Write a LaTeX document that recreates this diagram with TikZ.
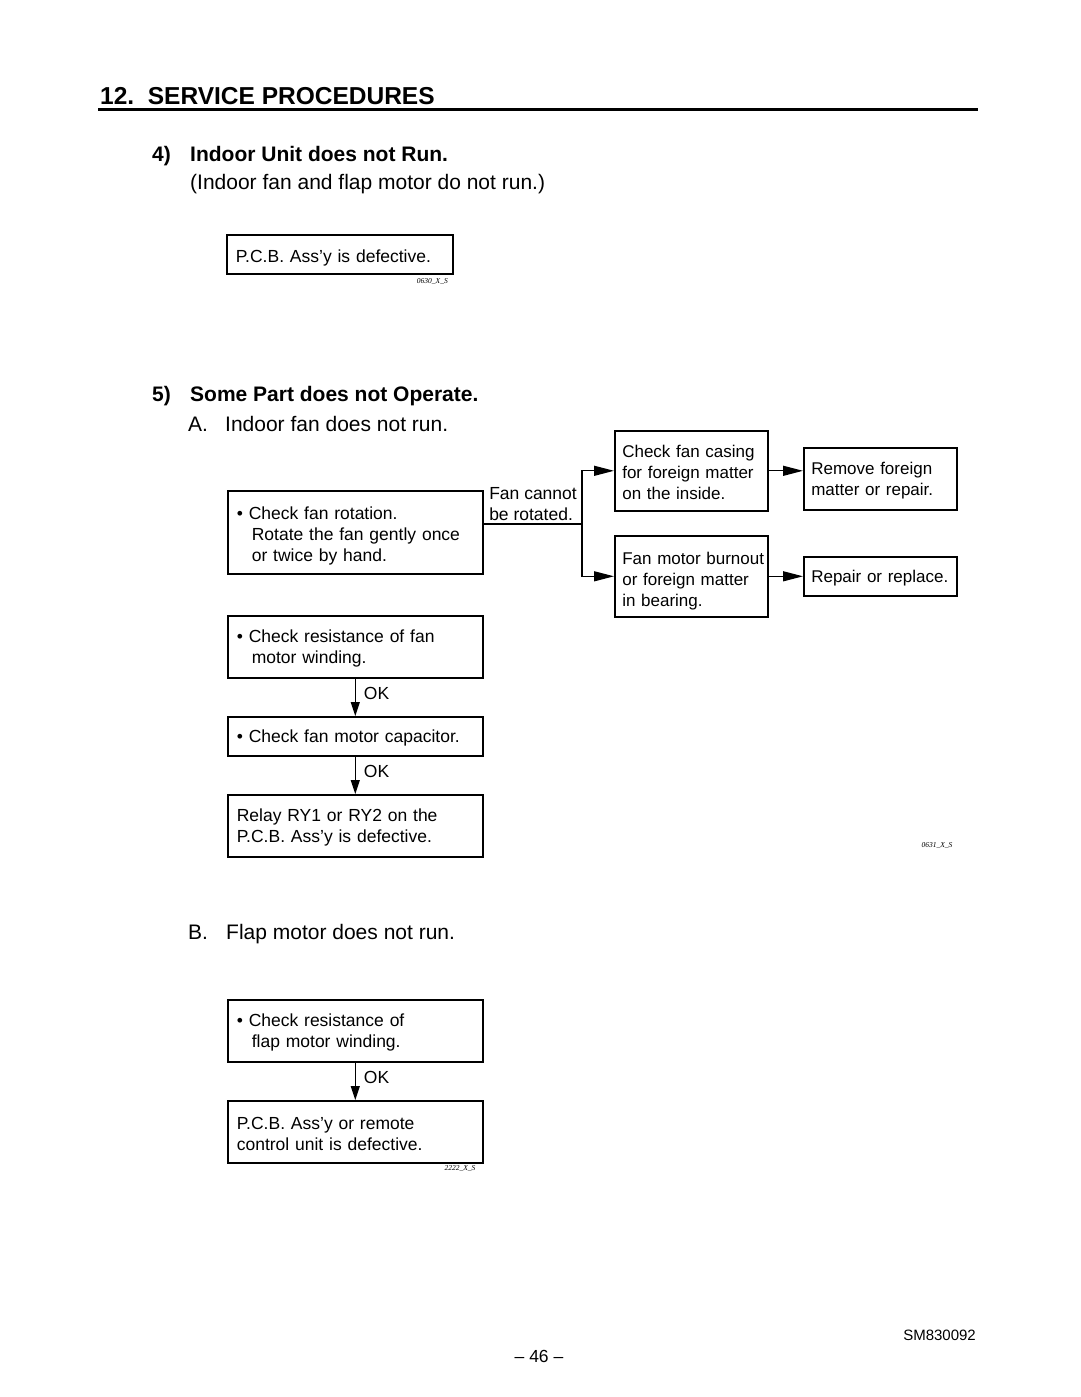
\documentclass[tikz,border=0pt]{standalone}
\usepackage{fontspec}
\setmainfont{Liberation Sans}
\newfontfamily\tagfont{Liberation Serif}
\usetikzlibrary{arrows.meta}
\newcommand{\bul}{\textbullet\ }
\newcommand{\ind}{\hspace*{15pt}}

\begin{document}
\begin{tikzpicture}[x=1pt, y=-1pt,
		blockW/.style   = {draw, rectangle,
			anchor         = north west,
			align          = left,
			inner xsep     = 9pt,
			inner ysep     = 0pt,
			text width     = 237pt,
			line width     = 1.6pt,
			execute at begin node = {\rule{0pt}{16pt}},
			font = \fontsize{17.5}{21}\selectfont},
		blockN/.style   = {blockW,
			inner xsep     = 7.5pt,
			text width     = 138pt,
			font = \fontsize{17}{21}\selectfont},
		blockP/.style   = {blockW,
			text width     = 208pt},
		low/.style      = {execute at begin node = {\rule{0pt}{21pt}}},
		head/.style     = {anchor = base west, inner sep = 0pt,
			font = \fontsize{21}{25}\selectfont},
		bold/.style     = {font = \bfseries\fontsize{21}{25}\selectfont},
		tag/.style      = {inner sep = 0pt, font = \tagfont\itshape\fontsize{7.5}{9}\selectfont},
		lbl/.style      = {anchor = south west, pos = 0, align = left,
			inner xsep = 5pt, inner ysep = 3pt,
			font = \fontsize{17.5}{21}\selectfont},
		ok/.style       = {right, pos = 0.4, inner xsep = 8pt,
			font = \fontsize{17.5}{21}\selectfont},
		conn/.style     = {line width = 1.3pt},
		arrH/.style     = {conn, -{Triangle[length=20pt, width=10pt]}},
		arrV/.style     = {conn, -{Triangle[length=14pt, width=9pt]}}]
	
	\useasboundingbox (0,0) rectangle (1080,1397);
	
	% headings
	\node[head, font = \bfseries\fontsize{24.5}{28}\selectfont] (title) at (100,104) {12.\ \ SERVICE PROCEDURES};
	\draw[line width = 3pt] (98,109) -- (978,109);
	
	\node[head, bold] (sec4) at (152,161) {\makebox[38pt][l]{4)}Indoor Unit does not Run.};
	\node[head] (sec4b) at (190,189) {(Indoor fan and flap motor do not run.)};
	
	\node[blockP, low, minimum height = 39pt] (pcb) at (226,234) {P.C.B. Ass'y is defective.};
	\node[tag, anchor = east] (tag1) at (448,281) {0630\_X\_S};
	
	\node[head, bold] (sec5) at (152,401) {\makebox[38pt][l]{5)}Some Part does not Operate.};
	\node[head] (subA) at (188,431) {\makebox[37pt][l]{A.}Indoor fan does not run.};
	
	% A. indoor fan
	\node[blockW, low, minimum height = 83pt] (rot) at (227,490)
	{\bul Check fan rotation.\\
		\ind Rotate the fan gently once\\
		\ind or twice by hand.};
	
	\node[blockN, minimum height = 80pt] (casing) at (614,430)
	{\mbox{Check fan casing}\\ \mbox{for foreign matter}\\ on the inside.};
	\node[blockN, minimum height = 62pt] (remove) at (803,447)
	{Remove foreign\\ matter or repair.};
	\node[blockN, low, minimum height = 81pt] (burnout) at (614,535)
	{\mbox{Fan motor burnout}\\ \mbox{or foreign matter}\\ in bearing.};
	\node[blockN, minimum height = 39pt] (repair) at (803,556)
	{\mbox{Repair or replace.}};
	
	\node[blockW, minimum height = 62pt] (wind) at (227,615)
	{\bul Check resistance of fan\\ \ind motor winding.};
	\node[blockW, minimum height = 39pt] (capa) at (227,716)
	{\bul Check fan motor capacitor.};
	\node[blockW, minimum height = 62pt] (relay) at (227,794)
	{Relay RY1 or RY2 on the\\ P.C.B. Ass'y is defective.};
	\node[tag] (tag2) at (937,845) {0631\_X\_S};
	
	\coordinate (split) at (582,524); % branch point
	\draw[conn] (rot.east |- split) -- node[lbl] {Fan cannot\\ be rotated.} (split);
	\draw[arrH] (split) |- (casing.west);
	\draw[arrH] (split) |- (burnout.west);
	\draw[arrH] (casing.east) -- (casing.east -| remove.west);
	\draw[arrH] (burnout.east) -- (repair.west);
	
	\draw[arrV] (wind.south) -- node[ok] {OK} (capa.north);
	\draw[arrV] (capa.south) -- node[ok] {OK} (relay.north);
	
	% B. flap motor
	\node[head] (subB) at (188,939) {\makebox[38pt][l]{B.}Flap motor does not run.};
	
	\node[blockW, minimum height = 62pt] (flap) at (227,999)
	{\bul Check resistance of\\ \ind flap motor winding.};
	\node[blockW, minimum height = 62pt] (remote) at (227,1100)
	{P.C.B. Ass'y or remote\\ control unit is defective.};
	\node[tag] (tag3) at (460,1168) {2222\_X\_S};
	
	\draw[arrV] (flap.south) -- node[ok] {OK} (remote.north);
	
	% footer
	\node[anchor = base east, inner sep = 0pt, font = \fontsize{15}{18}\selectfont] (docno) at (976,1340) {SM830092};
	\node[anchor = base, inner sep = 0pt, font = \fontsize{17.5}{21}\selectfont] (page) at (539,1362) {-- 46 --};
	
\end{tikzpicture}
\end{document}
